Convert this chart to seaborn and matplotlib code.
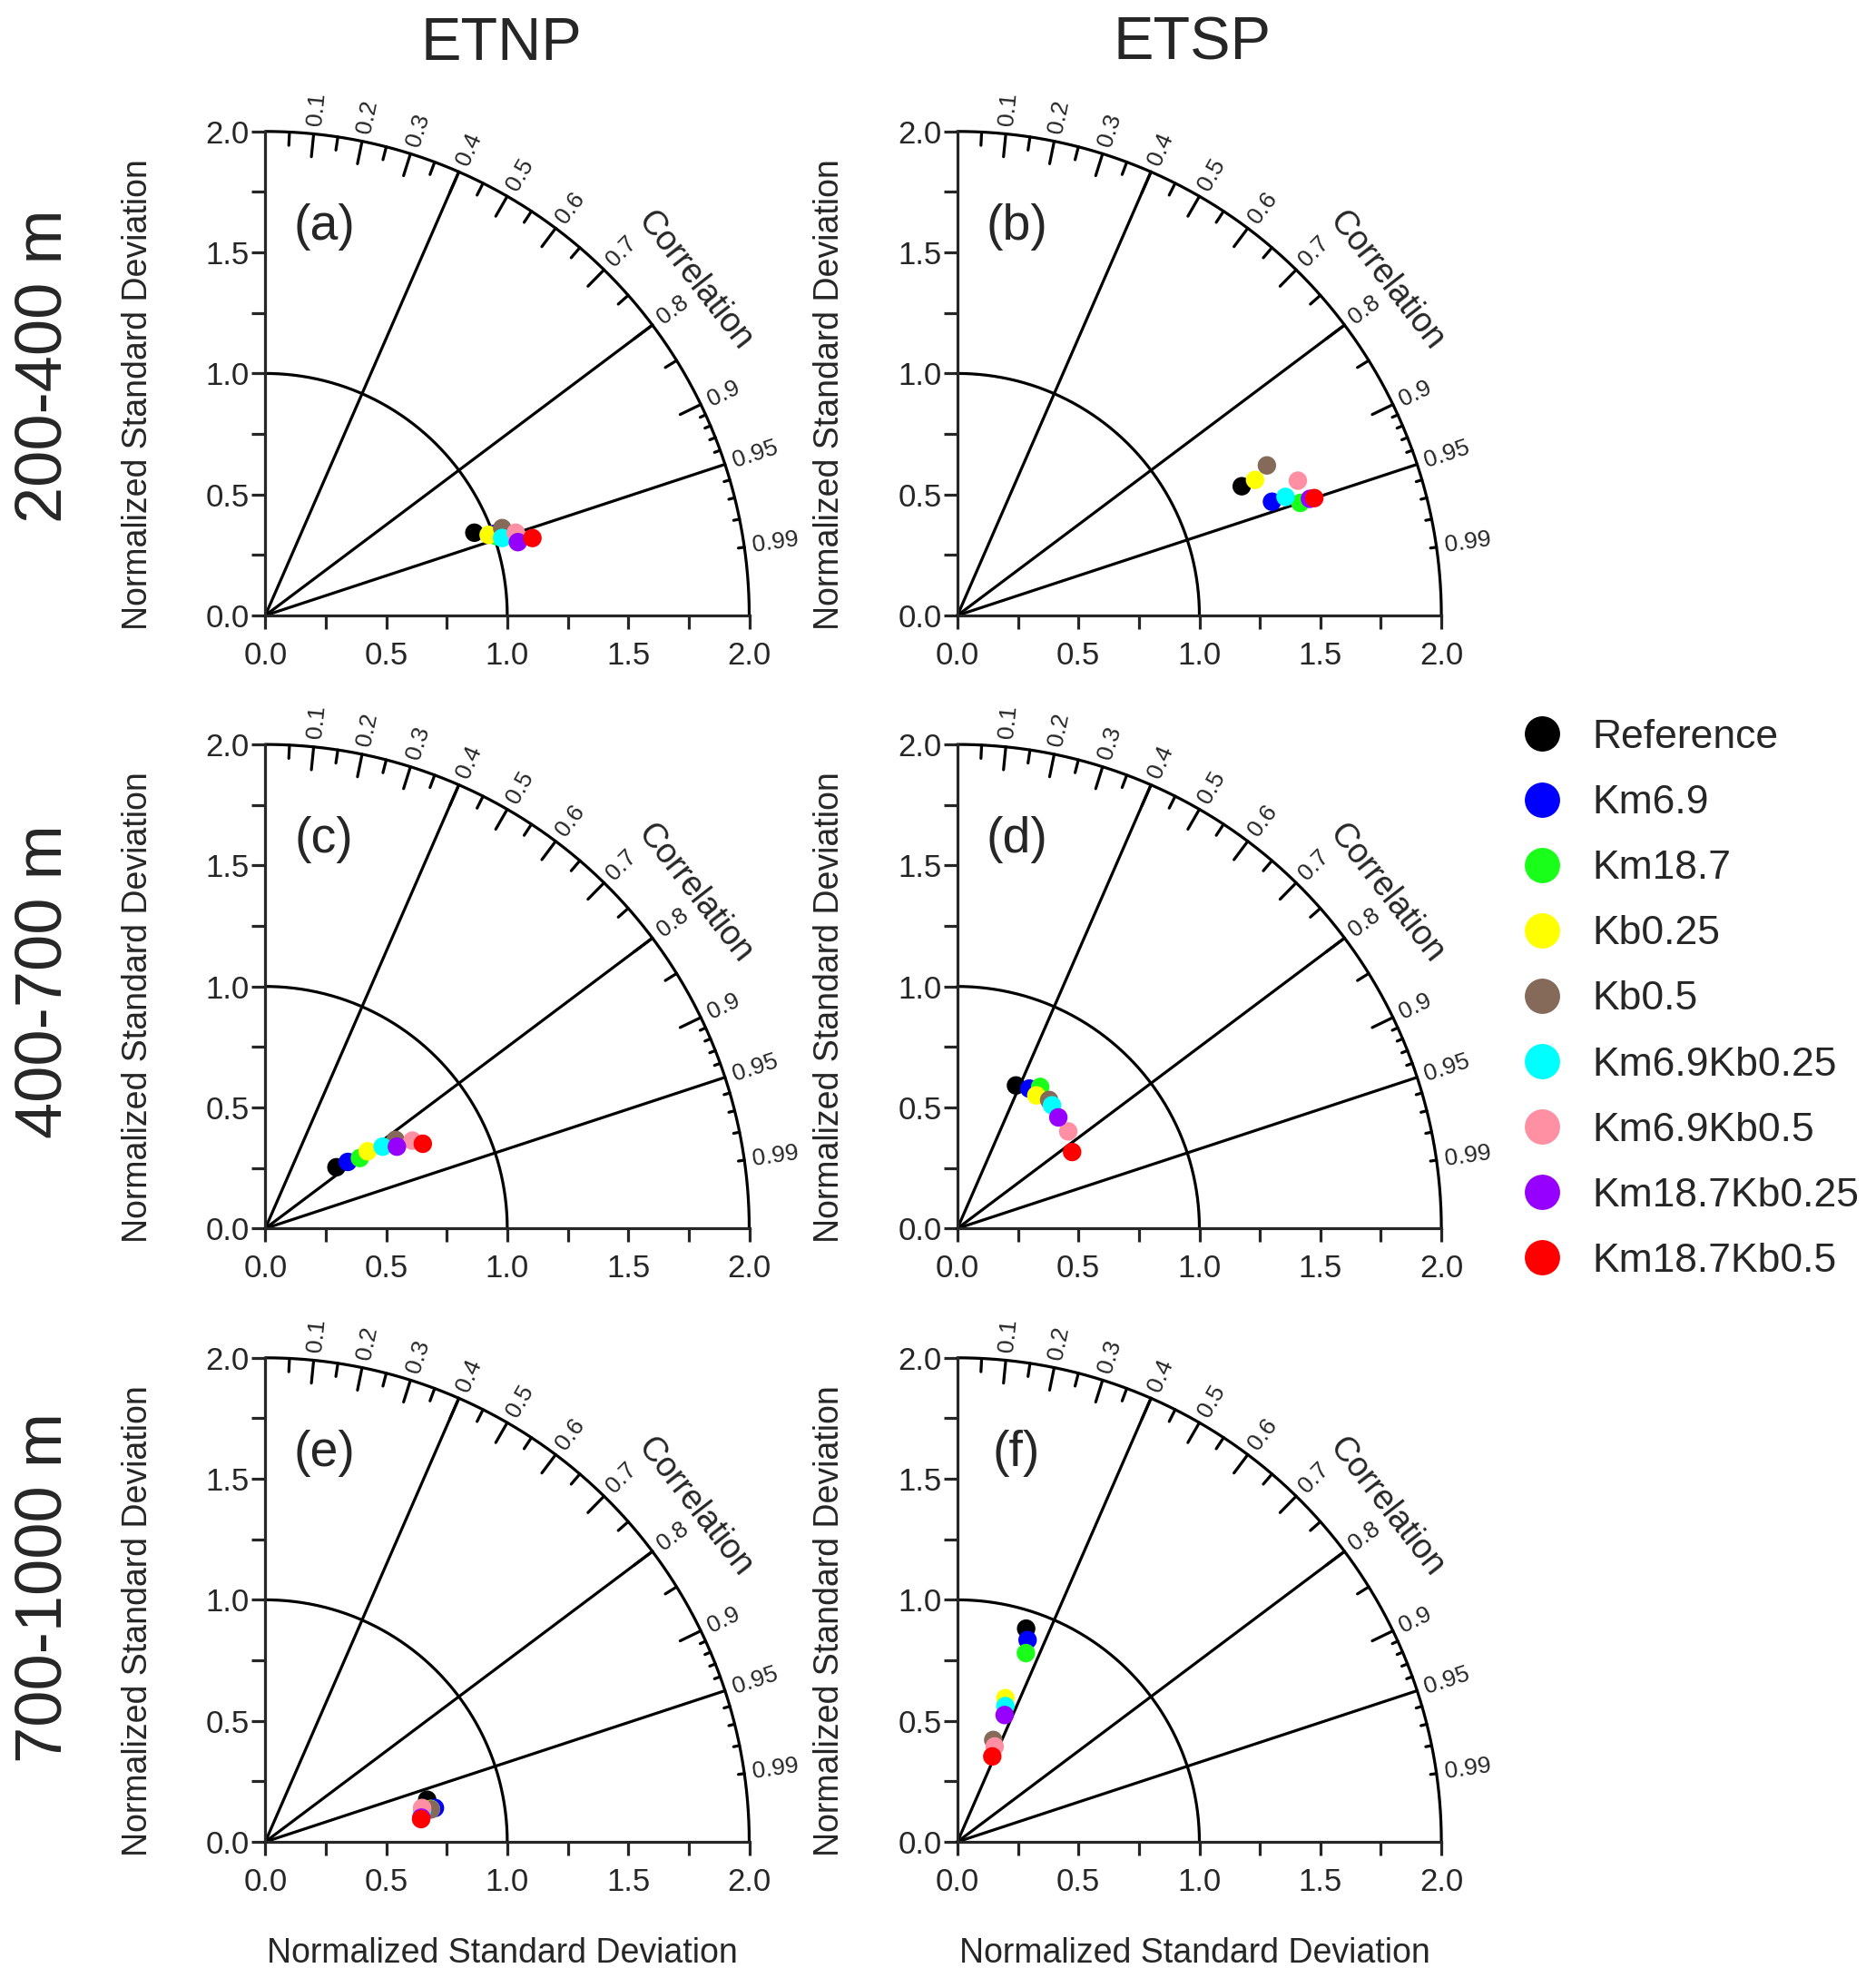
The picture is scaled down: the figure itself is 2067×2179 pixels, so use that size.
import numpy as np
import pandas as pd
import matplotlib.pyplot as plt
import matplotlib.font_manager as fm
import seaborn as sns
from matplotlib.lines import Line2D
from matplotlib.ticker import MultipleLocator, FormatStrFormatter

# experiments and colours
cases = ["Reference", "Km6.9", "Km18.7", "Kb0.25", "Kb0.5",
         "Km6.9Kb0.25", "Km6.9Kb0.5", "Km18.7Kb0.25", "Km18.7Kb0.5"]
colors = ["#000000", "#0000ff", "#1aff1a", "#ffff00", "#856a5a",
          "#00ffff", "#ff90a3", "#9600ff", "#ff0000"]

# points (normalized std, x and y components)
a_x = [0.864, 0.950, 0.955, 0.923, 0.979, 0.979, 1.035, 1.044, 1.104]
a_y = [0.342, 0.338, 0.328, 0.333, 0.361, 0.320, 0.342, 0.303, 0.320]
b_x = [1.175, 1.300, 1.417, 1.230, 1.279, 1.356, 1.407, 1.457, 1.475]
b_y = [0.534, 0.470, 0.465, 0.560, 0.620, 0.490, 0.557, 0.482, 0.485]
c_x = [0.294, 0.341, 0.391, 0.423, 0.538, 0.485, 0.608, 0.544, 0.651]
c_y = [0.253, 0.275, 0.291, 0.319, 0.366, 0.338, 0.363, 0.338, 0.350]
d_x = [0.242, 0.297, 0.342, 0.326, 0.379, 0.391, 0.458, 0.417, 0.474]
d_y = [0.591, 0.578, 0.585, 0.550, 0.531, 0.509, 0.401, 0.459, 0.316]
e_x = [0.669, 0.701, 0.683, 0.684, 0.685, 0.648, 0.648, 0.645, 0.644]
e_y = [0.174, 0.140, 0.136, 0.135, 0.134, 0.130, 0.140, 0.100, 0.094]
f_x = [0.284, 0.290, 0.283, 0.198, 0.148, 0.198, 0.154, 0.195, 0.144]
f_y = [0.881, 0.834, 0.780, 0.594, 0.421, 0.561, 0.394, 0.524, 0.353]

panel_x = [a_x, b_x, c_x, d_x, e_x, f_x]
panel_y = [a_y, b_y, c_y, d_y, e_y, f_y]
letters = ["a", "b", "c", "d", "e", "f"]
col_titles = ["ETNP", "ETSP"]
row_labels = ["200-400 m", "400-700 m", "700-1000 m"]

corr_major = [0.1, 0.2, 0.3, 0.4, 0.5, 0.6, 0.7, 0.8, 0.9, 0.95, 0.99]
corr_labels = ["0.1", "0.2", "0.3", "0.4", "0.5", "0.6", "0.7", "0.8", "0.9", "0.95", "0.99"]
corr_lines = [0.4, 0.8, 0.95]

sns.set_style("white")
plt.rcParams["font.family"] = ["Liberation Sans", "DejaVu Sans"]
names = {f.name for f in fm.fontManager.ttflist}
narrow = "Liberation Sans"
for cand in ["Liberation Sans Narrow", "Arial Narrow"]:
    if cand in names:
        narrow = cand
        break

W, H = 2067, 2179
fig = plt.figure(figsize=(W / 100, H / 100), dpi=100)

LW = 2.3
lefts = [292.3, 1054.9]
origins_y = [678.0, 1353.3, 2029.0]
size = 533.2


def taylor_frame(ax):
    th = np.linspace(0, np.pi / 2, 300)
    ax.plot(2 * np.cos(th), 2 * np.sin(th), color="k", lw=LW, clip_on=False)
    ax.plot(np.cos(th), np.sin(th), color="k", lw=LW, clip_on=False)
    for c in corr_lines:
        t = np.arccos(c)
        ax.plot([0, 2 * np.cos(t)], [0, 2 * np.sin(t)], color="k", lw=LW, clip_on=False)
    # ticks along the correlation arc
    ticks = [(c, 0.095) for c in np.arange(0.1, 0.91, 0.1)]
    ticks += [(c, 0.055) for c in np.arange(0.05, 0.86, 0.1)]
    ticks += [(c, 0.025) for c in [0.91, 0.92, 0.93, 0.94, 0.96, 0.97, 0.98, 0.99]]
    for c, ln in ticks:
        t = np.arccos(c)
        ax.plot([2 * np.cos(t), (2 - ln) * np.cos(t)],
                [2 * np.sin(t), (2 - ln) * np.sin(t)], color="k", lw=LW, clip_on=False)
    for c, lab in zip(corr_major, corr_labels):
        t = np.arccos(c)
        ax.text(2.035 * np.cos(t), 2.035 * np.sin(t), lab, rotation=np.degrees(t),
                rotation_mode="anchor", ha="left", va="center", fontsize=19)
    t = np.radians(38.0)
    ax.text(2.25 * np.cos(t), 2.25 * np.sin(t), "Correlation", rotation=-52,
            rotation_mode="anchor", ha="center", va="center", fontsize=27)


for i in range(6):
    r, col = divmod(i, 2)
    ax = fig.add_axes([lefts[col] / W, 1 - origins_y[r] / H, size / W, size / H])
    ax.set_xlim(0, 2)
    ax.set_ylim(0, 2)
    ax.set_aspect("equal")
    for s in ["top", "right"]:
        ax.spines[s].set_visible(False)
    for s in ["left", "bottom"]:
        ax.spines[s].set_linewidth(LW)
    for axis in [ax.xaxis, ax.yaxis]:
        axis.set_major_locator(MultipleLocator(0.5))
        axis.set_minor_locator(MultipleLocator(0.25))
        axis.set_major_formatter(FormatStrFormatter("%.1f"))
    ax.tick_params(which="both", direction="out", length=11, width=LW,
                   labelsize=25, left=True, bottom=True)
    ax.tick_params(axis="y", which="both", pad=1.5)
    ax.tick_params(axis="x", which="both", pad=9)
    for lab in ax.get_xticklabels() + ax.get_yticklabels():
        lab.set_family(narrow)

    taylor_frame(ax)

    df = pd.DataFrame({"x": panel_x[i], "y": panel_y[i], "case": cases})
    sns.scatterplot(data=df, x="x", y="y", hue="case", hue_order=cases,
                    palette=dict(zip(cases, colors)), s=215, linewidth=0,
                    legend=False, ax=ax, zorder=5, clip_on=False)

    ax.text(0.244, 1.605, "(" + letters[i] + ")", fontsize=40, ha="center", va="center")

    ax.set_ylabel("Normalized Standard Deviation", fontsize=27)
    ax.yaxis.set_label_coords(-0.23, 0.457)
    if r == 2:
        ax.set_xlabel("Normalized Standard Deviation", fontsize=27)
        ax.xaxis.set_label_coords(0.49, -0.197)
    else:
        ax.set_xlabel("")

for col, title in enumerate(col_titles):
    xc = [552, 1314][col]
    fig.text(xc / W, 1 - 49 / H, title, fontsize=48, ha="center", va="center")

for r, lab in enumerate(row_labels):
    yc = [403, 1081, 1749][r]
    fig.text(49 / W, 1 - yc / H, lab, fontsize=52, rotation=90, ha="center", va="center")

handles = [Line2D([], [], marker="o", ls="", color=c, markersize=28, markeredgewidth=0)
           for c in colors]
fig.legend(handles, cases, loc="upper left", bbox_to_anchor=(1677 / W, 1 - 792 / H),
           frameon=False, fontsize=32, handlelength=1.0, handletextpad=0.74,
           labelspacing=0.70, borderpad=0, borderaxespad=0)

fig.savefig("out.png", dpi=100)
